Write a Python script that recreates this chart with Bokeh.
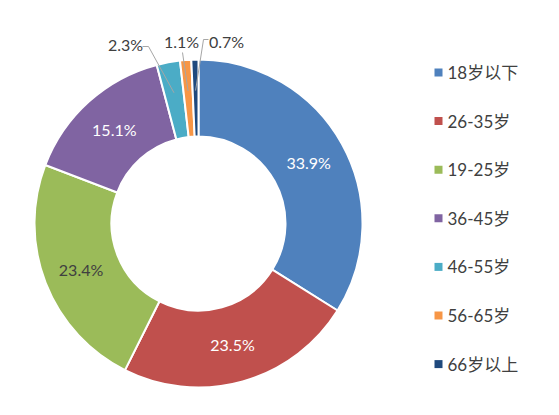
import math
from bokeh.plotting import figure
from bokeh.models import Range1d
from bokeh.core.properties import value
from bokeh.embed import file_html
from bokeh.resources import INLINE

# ---- data ----
categories = ["18岁以下", "26-35岁", "19-25岁", "36-45岁", "46-55岁", "56-65岁", "66岁以上"]
shares = [33.9, 23.5, 23.4, 15.1, 2.3, 1.1, 0.7]
colors = ["#4F81BD", "#C0504D", "#9BBB59", "#8064A2", "#4BACC6", "#F79646", "#1F497D"]
label_texts = ["33.9%", "23.5%", "23.4%", "15.1%", "2.3%", "1.1%", "0.7%"]

W, H = 543, 399
p = figure(width=W, height=H, output_backend="svg", toolbar_location=None,
           x_range=Range1d(0, W), y_range=Range1d(415 - H, 415),
           min_border=0, outline_line_color=None)
p.axis.visible = False
p.grid.visible = False
p.background_fill_color = "white"
p.border_fill_color = "white"


def sy(y):
    # screen-like y (from top of picture) to data y
    return 415 - y


cx, cy = 198, sy(223)
r_out, r_in = 164, 87
FONT = "Lato, 'Noto Sans CJK SC'"

total = sum(shares)
starts, ends, mids = [], [], []
acc = 0.0
for s in shares:
    a0 = math.pi / 2 - 2 * math.pi * acc / total
    acc += s
    a1 = math.pi / 2 - 2 * math.pi * acc / total
    starts.append(a0)
    ends.append(a1)
    mids.append((a0 + a1) / 2)

p.annular_wedge(x=cx, y=cy, inner_radius=r_in, outer_radius=r_out,
                start_angle=starts, end_angle=ends, direction="clock",
                fill_color=colors, line_color="white", line_width=2)

# inside labels (large slices)
r_mid = 126
in_idx = [0, 1, 2, 3]
in_colors = ["white", "white", "#404040", "white"]
p.text(x=[cx + r_mid * math.cos(mids[i]) for i in in_idx],
       y=[cy + r_mid * math.sin(mids[i]) for i in in_idx],
       text=[label_texts[i] for i in in_idx],
       text_color=in_colors, text_align="center", text_baseline="middle",
       text_font=value(FONT), text_font_size="16px")

# outside labels with leader lines (small slices)
out_idx = [4, 5, 6]
out_pos = [(125, 44), (181, 41), (226, 41)]
line_starts = [[(142, 46), (148, 46)], [(182, 52)], [(208, 39), (203, 39)]]
r_lead = 133
for k, i in enumerate(out_idx):
    ex = cx + r_lead * math.cos(mids[i])
    ey = cy + r_lead * math.sin(mids[i])
    xs = [pt[0] for pt in line_starts[k]] + [ex]
    ys = [sy(pt[1]) for pt in line_starts[k]] + [ey]
    p.line(xs, ys, line_color="#A6A6A6", line_width=1)
p.text(x=[pt[0] for pt in out_pos], y=[sy(pt[1]) for pt in out_pos],
       text=[label_texts[i] for i in out_idx],
       text_color="#404040", text_align="center", text_baseline="middle",
       text_font=value(FONT), text_font_size="16px")

# legend
lx, ly0, dy = 438, 72, 48.6
p.rect(x=[lx] * len(categories), y=[sy(ly0 + i * dy) for i in range(len(categories))],
       width=8, height=8, fill_color=colors, line_color=None)
p.text(x=[lx + 9] * len(categories), y=[sy(ly0 + i * dy) for i in range(len(categories))],
       text=categories, text_color="#404040", text_align="left", text_baseline="middle",
       text_font=value(FONT), text_font_size="17px")

open("out.html", "w").write(file_html(p, INLINE))
